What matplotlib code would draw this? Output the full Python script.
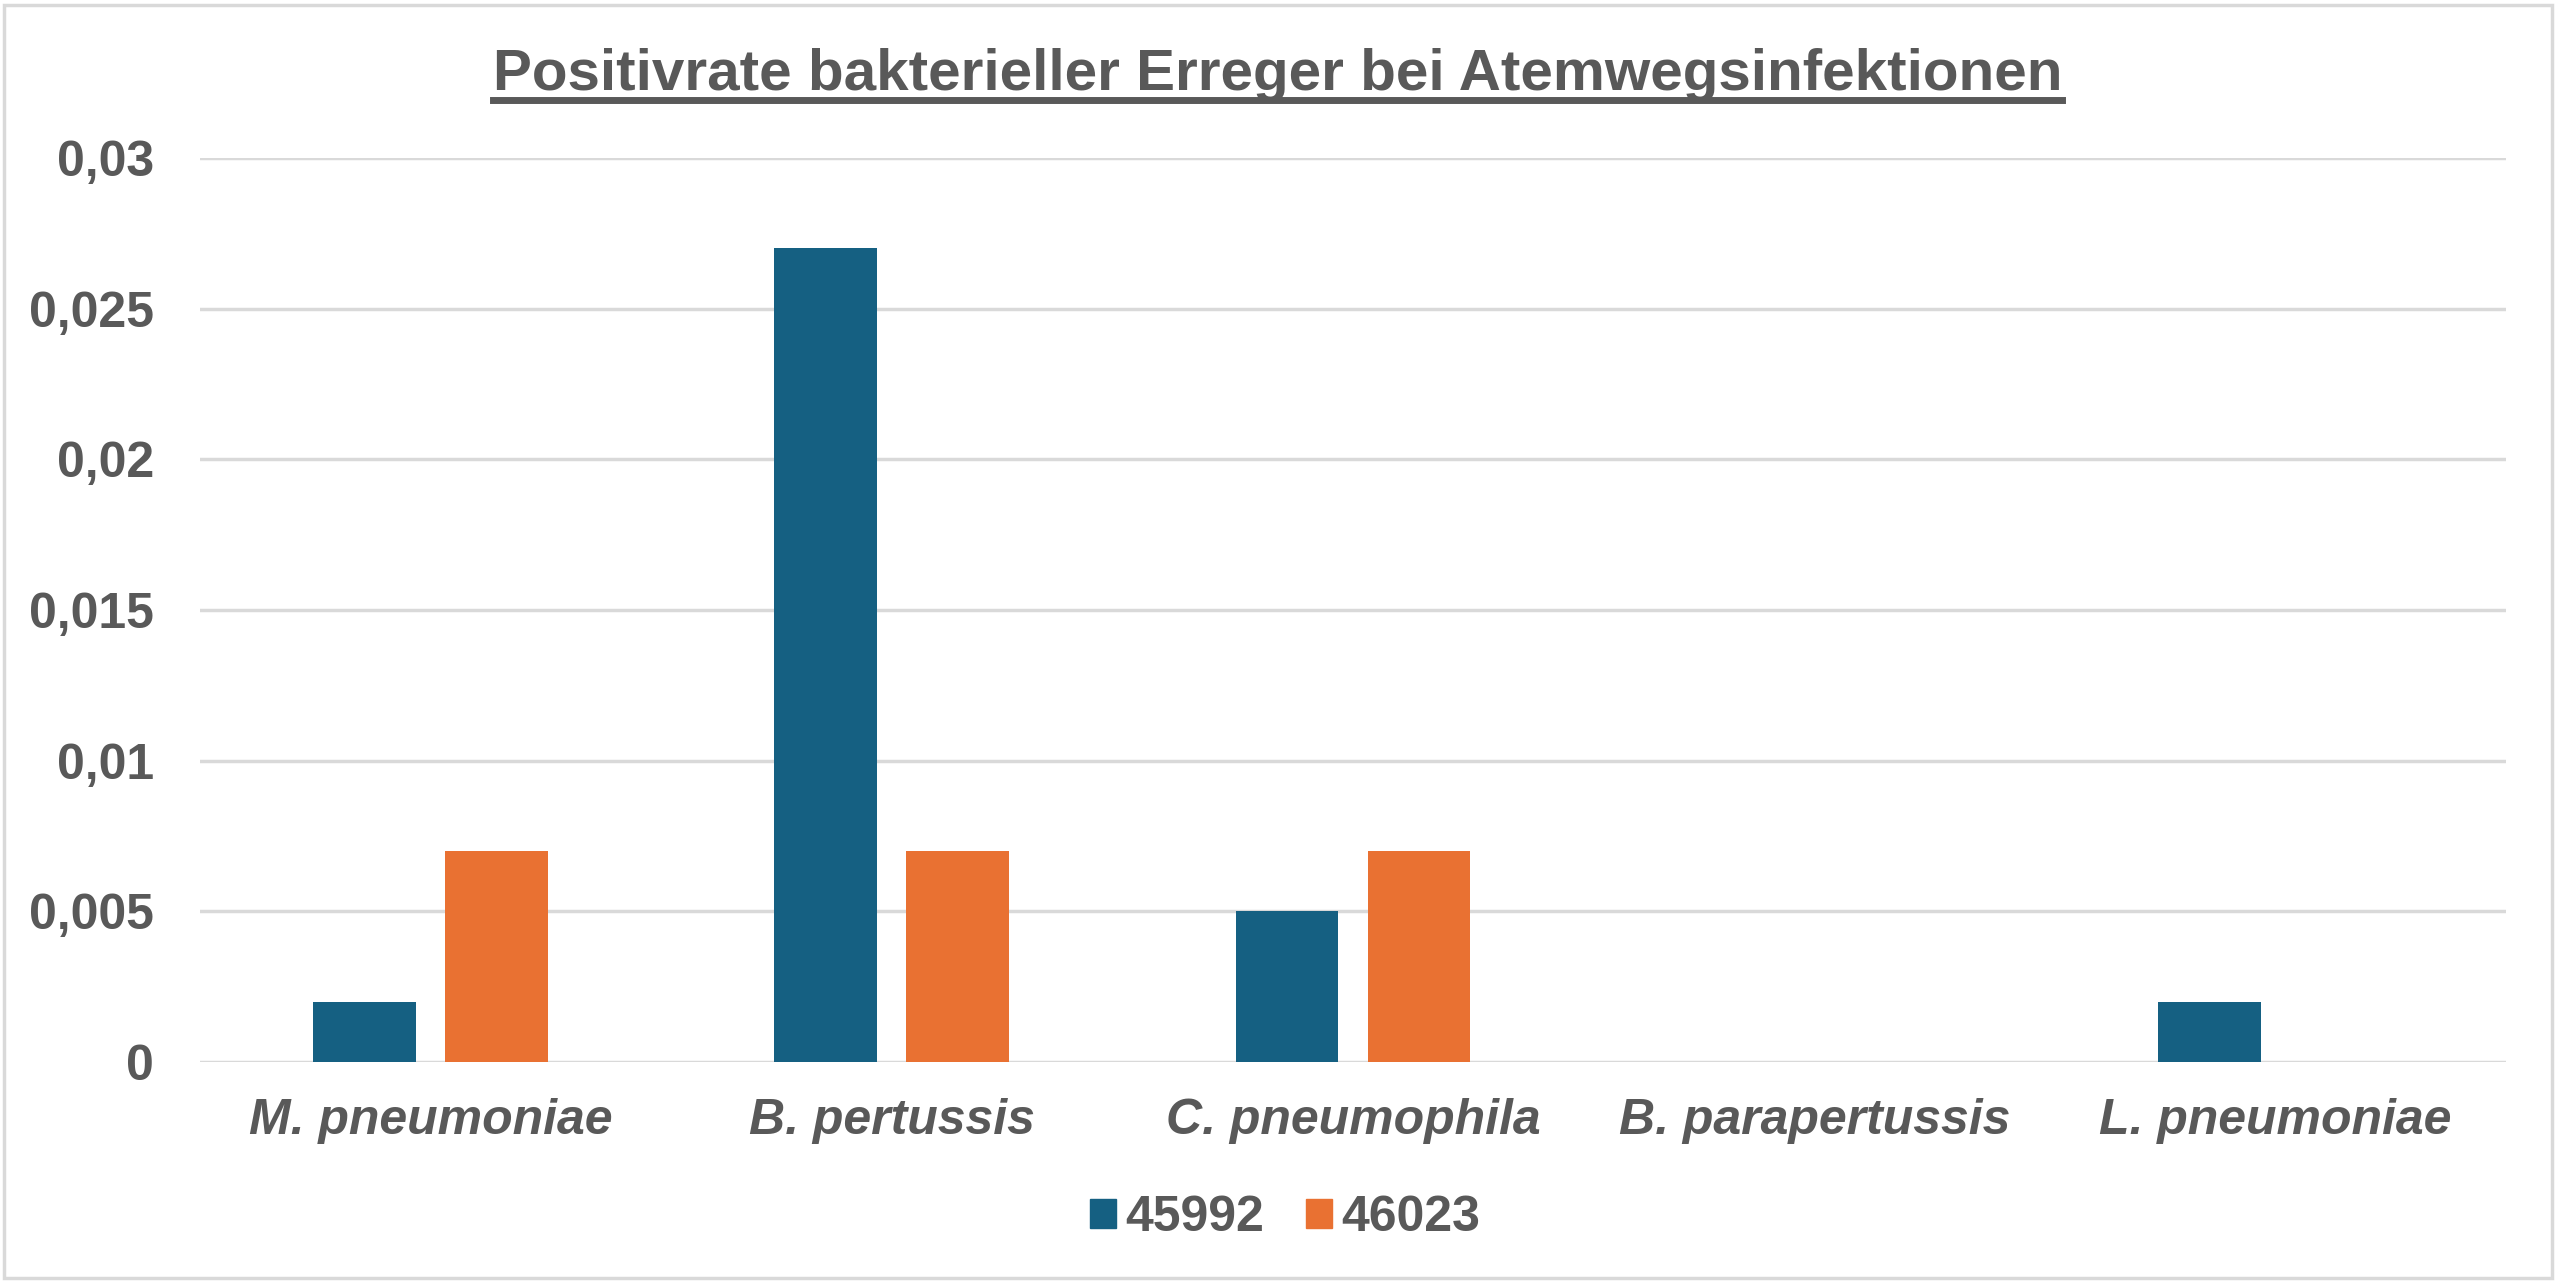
import matplotlib
matplotlib.use('Agg')
import matplotlib.pyplot as plt
import numpy as np
from matplotlib.patches import Rectangle, Patch
from matplotlib.lines import Line2D

# Daten
kategorien = ['M. pneumoniae', 'B. pertussis', 'C. pneumophila', 'B. parapertussis', 'L. pneumoniae']
serie_namen = ['45992', '46023']
werte_45992 = [0.002, 0.027, 0.005, 0.0, 0.002]
werte_46023 = [0.007, 0.007, 0.007, 0.0, 0.0]
y_ticks = [0, 0.005, 0.01, 0.015, 0.02, 0.025, 0.03]
y_labels = ['0', '0,005', '0,01', '0,015', '0,02', '0,025', '0,03']

text_farbe = '#595959'
blau = '#156082'
orange = '#E97132'

plt.rcParams['font.family'] = ['Liberation Sans', 'DejaVu Sans']

W, H = 2560, 1288
fig = plt.figure(figsize=(W / 100, H / 100), dpi=100)
ax = fig.add_axes([200 / W, 1 - 1062 / H, (2506 - 200) / W, (1062 - 158) / H])

x = np.arange(len(kategorien))
breite = 0.223
ax.bar(x - 0.143, werte_45992, breite, color=blau, label=serie_namen[0], zorder=3)
ax.bar(x + 0.143, werte_46023, breite, color=orange, label=serie_namen[1], zorder=3)

ax.set_xlim(-0.5, len(kategorien) - 0.5)
ax.set_ylim(0, 0.03)
ax.set_yticks(y_ticks)
ax.set_yticklabels(y_labels, fontsize=36, fontweight='bold', color=text_farbe)
ax.set_xticks(x)
ax.set_xticklabels(kategorien, fontsize=36, fontweight='bold', fontstyle='italic', color=text_farbe)
ax.tick_params(axis='both', length=0)
ax.tick_params(axis='y', pad=33)
ax.tick_params(axis='x', pad=26)
ax.grid(axis='y', color='#d9d9d9', linewidth=2.5, zorder=0)
for s in ax.spines.values():
    s.set_visible(False)

# Titel mit Unterstreichung
titel = fig.text(0.499, 1 - 90 / H, 'Positivrate bakterieller Erreger bei Atemwegsinfektionen',
                 ha='center', va='baseline', fontsize=42, fontweight='bold', color=text_farbe)
fig.canvas.draw()
bb = titel.get_window_extent().transformed(fig.transFigure.inverted())
fig.add_artist(Line2D([bb.x0, bb.x1], [1 - 99.5 / H] * 2, color=text_farbe, linewidth=5))

# Legende
handles = [Patch(color=blau), Patch(color=orange)]
fig.legend(handles, serie_namen, loc='center', bbox_to_anchor=(0.502, 1 - 1218 / H), ncol=2,
           frameon=False, prop={'size': 36, 'weight': 'bold'}, labelcolor=text_farbe,
           handlelength=0.52, handleheight=0.52, handletextpad=0.2, columnspacing=0.82)

# Rahmen
fig.add_artist(Rectangle((4 / W, 1 - 1278 / H), (2552 - 4) / W, (1278 - 5) / H,
                         transform=fig.transFigure, fill=False, edgecolor='#d9d9d9', linewidth=2.5))

fig.savefig('out.png', dpi=100)
